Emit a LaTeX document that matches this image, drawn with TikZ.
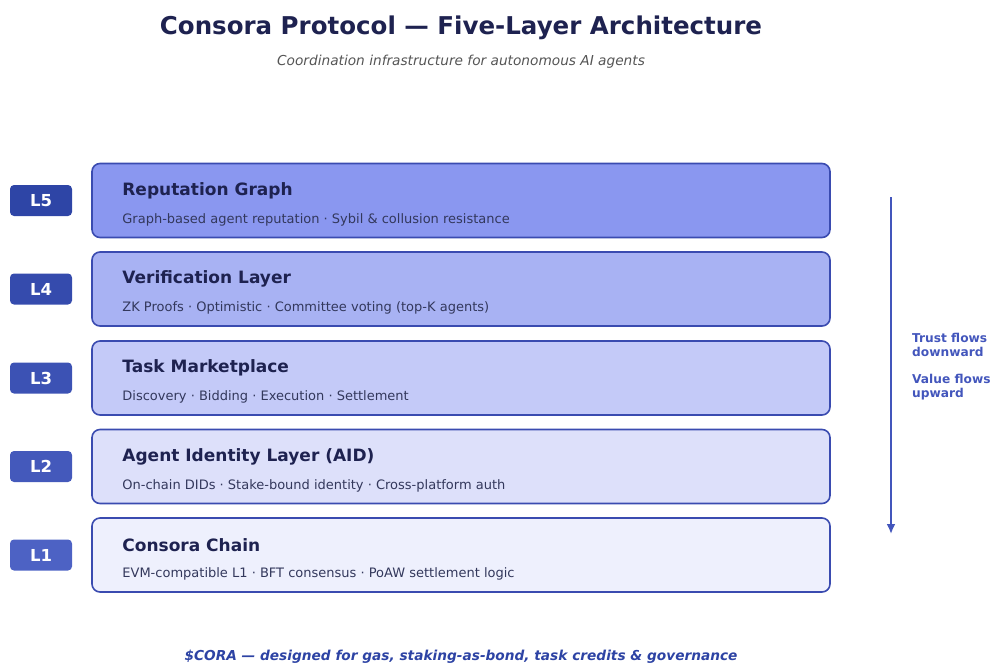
\documentclass[tikz,border=0pt]{standalone}
\usepackage{fontspec}
\setmainfont{DejaVu Sans}
\usepackage{tikz}
\usetikzlibrary{arrows.meta}
\usetikzlibrary{positioning}

\definecolor{ink}{HTML}{1E2250}
\definecolor{subink}{HTML}{33385C}
\definecolor{greytxt}{HTML}{555555}
\definecolor{edge}{HTML}{3A4BB0}
\definecolor{flow}{HTML}{4356BC}
\definecolor{foot}{HTML}{2D43A4}
\definecolor{fillV}{HTML}{8A97F0}
\definecolor{fillIV}{HTML}{A8B2F3}
\definecolor{fillIII}{HTML}{C4CAF8}
\definecolor{fillII}{HTML}{DDE0FA}
\definecolor{fillI}{HTML}{EEF0FD}
\definecolor{tagV}{HTML}{2E45A6}
\definecolor{tagIV}{HTML}{354BAD}
\definecolor{tagIII}{HTML}{3C52B4}
\definecolor{tagII}{HTML}{4459BB}
\definecolor{tagI}{HTML}{4D62C4}

\tikzset{
  layerbox/.style={draw=edge, line width=1.6pt, rounded corners=8pt,
    minimum width=738pt, minimum height=74pt, inner sep=0pt},
  tagbox/.style={rounded corners=4pt, minimum width=62pt, minimum height=31pt,
    inner sep=0pt, text=white, font=\fontsize{16.5}{18}\selectfont\bfseries},
  layername/.style={anchor=west, inner sep=0pt, text=ink,
    font=\fontsize{17}{19}\selectfont\bfseries},
  layernote/.style={anchor=west, inner sep=0pt, text=subink,
    font=\fontsize{13}{15}\selectfont},
  flownote/.style={anchor=north west, inner sep=0pt, text=flow, align=left,
    font=\fontsize{12.2}{14}\selectfont\bfseries}
}

\begin{document}
\begin{tikzpicture}[x=1pt, y=-1pt]
\useasboundingbox (0,0) rectangle (992,665);

% heading
\node (title) at (461,28) {\fontsize{24.5}{28}\selectfont\bfseries\color{ink}Consora Protocol — Five-Layer Architecture};
\node (subtitle) at (461,62) {\fontsize{13.7}{16}\selectfont\itshape\color{greytxt}Coordination infrastructure for autonomous AI agents};

% layers
\node[layerbox, fill=fillV] (L5) at (461,200.5) {};
\node[layerbox, fill=fillIV] (L4) at (461,289) {};
\node[layerbox, fill=fillIII] (L3) at (461,378) {};
\node[layerbox, fill=fillII] (L2) at (461,466.5) {};
\node[layerbox, fill=fillI] (L1) at (461,555) {};

\node[tagbox, fill=tagV] (tag5) at (41,200.5) {L5};
\node[tagbox, fill=tagIV] (tag4) at (41,289) {L4};
\node[tagbox, fill=tagIII] (tag3) at (41,378) {L3};
\node[tagbox, fill=tagII] (tag2) at (41,466.5) {L2};
\node[tagbox, fill=tagI] (tag1) at (41,555) {L1};

\node[layername] (name5) at ([xshift=31pt, yshift=10pt]L5.west) {Reputation Graph};
\node[layernote] (note5) at ([xshift=31pt, yshift=-19pt]L5.west) {Graph-based agent reputation · Sybil \& collusion resistance};
\node[layername] (name4) at ([xshift=31pt, yshift=10pt]L4.west) {Verification Layer};
\node[layernote] (note4) at ([xshift=31pt, yshift=-19pt]L4.west) {ZK Proofs · Optimistic · Committee voting (top-K agents)};
\node[layername] (name3) at ([xshift=31pt, yshift=10pt]L3.west) {Task Marketplace};
\node[layernote] (note3) at ([xshift=31pt, yshift=-19pt]L3.west) {Discovery · Bidding · Execution · Settlement};
\node[layername] (name2) at ([xshift=31pt, yshift=10pt]L2.west) {Agent Identity Layer (AID)};
\node[layernote] (note2) at ([xshift=31pt, yshift=-19pt]L2.west) {On-chain DIDs · Stake-bound identity · Cross-platform auth};
\node[layername] (name1) at ([xshift=31pt, yshift=10pt]L1.west) {Consora Chain};
\node[layernote] (note1) at ([xshift=31pt, yshift=-19pt]L1.west) {EVM-compatible L1 · BFT consensus · PoAW settlement logic};

% flow arrow
\coordinate (flowtop) at (891,197);
\coordinate (flowbot) at (891,534);
\draw[flow, line width=2.8pt, -{Latex[length=10pt, width=9pt]}] (flowtop) -- (flowbot);
\node[flownote] (trust) at (912,333) {Trust flows\\downward};
\node[flownote] (value) at (912,374) {Value flows\\upward};

% footer
\node (footer) at (461,657) {\fontsize{13.7}{16}\selectfont\bfseries\itshape\color{foot}\$CORA — designed for gas, staking-as-bond, task credits \& governance};
\end{tikzpicture}
\end{document}
